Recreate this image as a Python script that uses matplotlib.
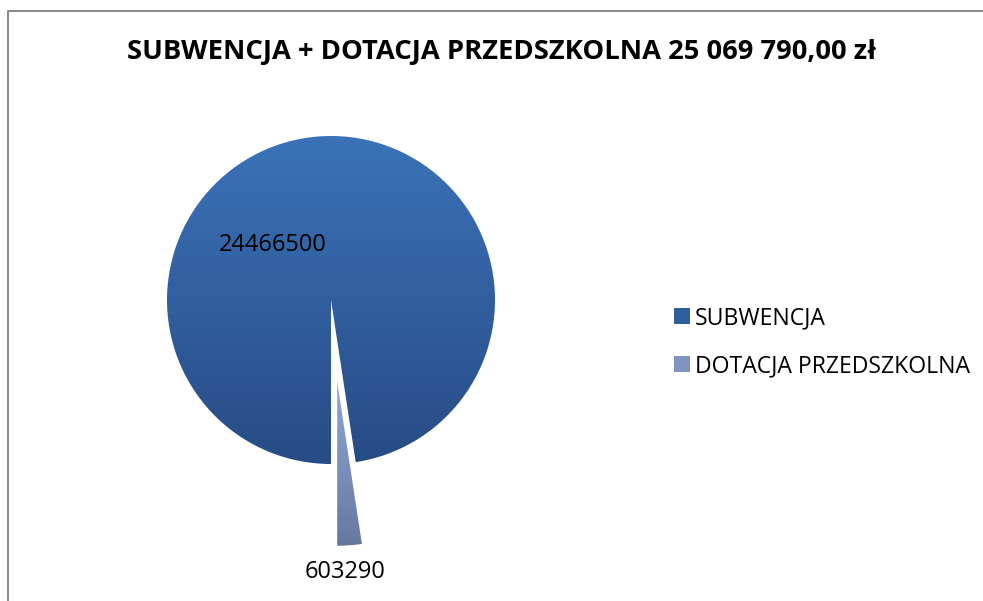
import numpy as np
import matplotlib
matplotlib.use('Agg')
import matplotlib.pyplot as plt
from matplotlib.colors import LinearSegmentedColormap
from matplotlib.patches import Patch
from matplotlib.lines import Line2D

TITLE = 'SUBWENCJA + DOTACJA PRZEDSZKOLNA 25 069 790,00 zł'
labels = ['SUBWENCJA', 'DOTACJA PRZEDSZKOLNA']
values = [24466500, 603290]
explode = [0.0, 0.5]
# gradient colours (top, bottom) for each slice
grad_top = ['#3B72B8', '#8EA8D8']
grad_bot = ['#274C85', '#66789E']

plt.rcParams['font.family'] = ['Open Sans', 'DejaVu Sans']

W, H = 983, 601
fig = plt.figure(figsize=(W / 100, H / 100), dpi=100)

# pie centre/radius in pixels (from top-left)
cx, cy, R = 331, 300, 164
xl, yl = (-1.2, 1.2), (-1.8, 1.2)
ax = fig.add_axes([(cx + xl[0] * R) / W, (H - cy + yl[0] * R) / H,
                   (xl[1] - xl[0]) * R / W, (yl[1] - yl[0]) * R / H])

wedges, _ = ax.pie(values, explode=explode, startangle=270, counterclock=False,
                   radius=1.0, wedgeprops=dict(linewidth=0))
ax.set_aspect('equal')
ax.axis('off')

# vertical gradient fill, clipped to each wedge
grad = np.linspace(0, 1, 256).reshape(-1, 1)
for w, ct, cb in zip(wedges, grad_top, grad_bot):
    w.set_facecolor('none')
    verts = w.get_path().vertices
    x0, x1 = verts[:, 0].min(), verts[:, 0].max()
    y0, y1 = verts[:, 1].min(), verts[:, 1].max()
    cmap = LinearSegmentedColormap.from_list('g', [ct, cb])
    im = ax.imshow(grad, cmap=cmap, extent=(x0, x1, y0, y1), origin='upper',
                   aspect='auto', interpolation='bilinear', zorder=1)
    im.set_clip_path(w)
ax.set_xlim(*xl)
ax.set_ylim(*yl)

# data labels
ax.text(-0.354, 0.335, f'{values[0]}', ha='center', va='center', fontsize=17, color='black', zorder=3)
ax.text(0.085, -1.66, f'{values[1]}', ha='center', va='center', fontsize=17, color='black', zorder=3)

fig.text(502 / W, 1 - 52 / H, TITLE, ha='center', va='center', fontsize=19.7, fontweight='bold')

handles = [Patch(facecolor=c, edgecolor='none') for c in ['#2F5E9E', '#7F95C0']]
fig.legend(handles, labels, loc='center left', bbox_to_anchor=(665 / W, 1 - 342 / H),
           frameon=False, fontsize=16.6, handlelength=0.7, handleheight=0.7,
           handletextpad=0.2, labelspacing=1.05, borderaxespad=0)

# chart frame (left and top edges visible)
fig.add_artist(Line2D([7.5 / W, 7.5 / W, 1.0], [0.0, 1 - 11 / H, 1 - 11 / H],
                      transform=fig.transFigure, color='#8C8C8C', linewidth=1.5))

fig.savefig('out.png', dpi=100)
